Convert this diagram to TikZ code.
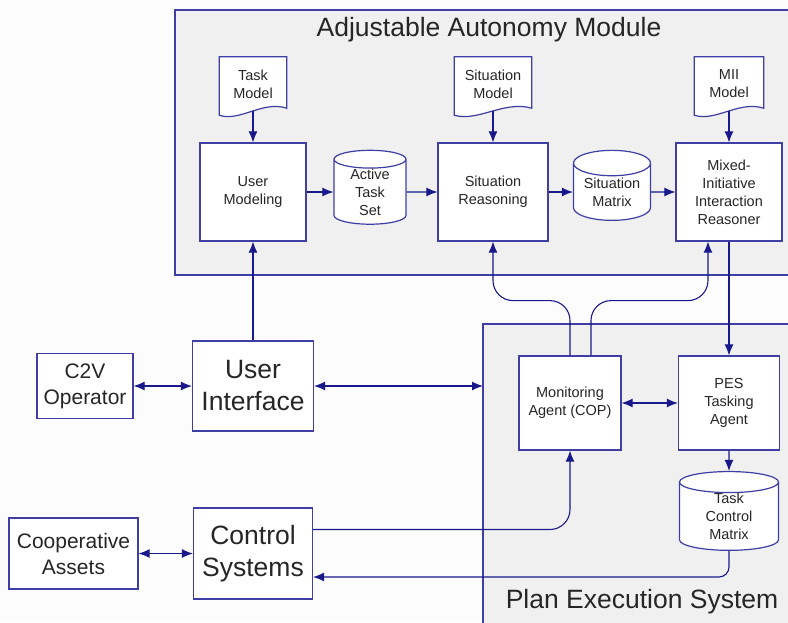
\documentclass[tikz,border=0pt]{standalone}
\usepackage{fontspec}
\setmainfont{Liberation Sans}
\usepackage{tikz}
\usetikzlibrary{calc,shapes.geometric,arrows.meta,backgrounds}

\definecolor{boxline}{RGB}{62,62,165}
\definecolor{linkblue}{RGB}{25,25,140}
\definecolor{panelgray}{RGB}{240,240,240}
\definecolor{pagebg}{RGB}{252,252,252}
\definecolor{txt}{RGB}{38,38,38}

\begin{document}
\begin{tikzpicture}[x=1pt,y=-1pt,
    >={Latex[length=11pt,width=9pt]},
    every node/.style={text=txt,align=center},
    small/.style={font=\fontsize{14.5}{18}\selectfont},
    box/.style={small,draw=boxline,line width=1.2pt,fill=white,inner sep=0pt},
    midbox/.style={box,font=\fontsize{21}{26}\selectfont},
    bigbox/.style={box,font=\fontsize{26.5}{32}\selectfont},
    db/.style={small,cylinder,shape border rotate=90,aspect=0.45,draw=boxline,line width=1.2pt,fill=white,inner sep=0pt},
    doc/.style={small,inner sep=0pt,minimum height=54pt},
    docline/.style={draw=boxline,line width=1.2pt,fill=white},
    link/.style={draw=linkblue,line width=1.1pt},
    panel/.style={draw=boxline,line width=1.1pt,fill=panelgray},
    paneltitle/.style={font=\fontsize{26.5}{32}\selectfont,anchor=base}]
  \useasboundingbox (0,0) rectangle (788,622);

  % 模块框
  \begin{scope}[on background layer]
    \fill[pagebg] (0,0) rectangle (788,622);
    \draw[panel] (175,10) rectangle (800,275);
    \draw[panel] (483,324) rectangle (800,640);
  \end{scope}
  \node[paneltitle] (aamtitle) at (489,36) {Adjustable Autonomy Module};
  \node[paneltitle] (pestitle) at (642,608) {Plan Execution System};

  % 模型文档
  \node[doc,minimum width=67pt] (tm) at (253,84) {Task\\Model};
  \node[doc,minimum width=77pt] (sm) at (493,84) {Situation\\Model};
  \node[doc,minimum width=69pt] (mm) at (729,84) {MII\\Model};

  % 推理
  \node[box,minimum width=106pt,minimum height=98pt] (um) at (253,192) {User\\Modeling};
  \node[db,minimum width=72pt,minimum height=70pt] (ats) at (370,192) {Active\\Task\\Set};
  \node[box,minimum width=110pt,minimum height=98pt] (sr) at (493,192) {Situation\\Reasoning};
  \node[db,minimum width=77pt,minimum height=70pt] (smx) at (612,192) {Situation\\Matrix};
  \node[box,minimum width=106pt,minimum height=98pt] (mir) at (729,192) {Mixed-\\Initiative\\Interaction\\Reasoner};

  % 外部
  \node[midbox,minimum width=96pt,minimum height=65pt] (c2v) at (85,386) {C2V\\Operator};
  \node[bigbox,minimum width=121pt,minimum height=90pt] (ui) at (253,386) {User\\Interface};
  \node[midbox,minimum width=129pt,minimum height=71pt] (coop) at (73.5,553.5) {Cooperative\\Assets};
  \node[bigbox,minimum width=119pt,minimum height=91pt] (cs) at (253,553.5) {Control\\Systems};

  % 执行
  \node[box,minimum width=102pt,minimum height=94pt] (ma) at (570,403) {Monitoring\\Agent (COP)};
  \node[box,minimum width=101pt,minimum height=94pt] (pta) at (729,403) {PES\\Tasking\\Agent};
  \node[db,minimum width=99pt,minimum height=77pt] (tcm) at (729,516.5) {Task\\Control\\Matrix};
  \coordinate (pesw) at (483,386);

  \begin{scope}[on background layer]
    \foreach \d in {tm,sm,mm}
      \draw[docline] (\d.north west) -- (\d.north east) -- ($(\d.south east)+(0,-3)$)
        .. controls ($(\d.south west)!0.65!(\d.south east)+(0,-11)$) and ($(\d.south west)!0.3!(\d.south east)+(0,11)$) .. ($(\d.south west)+(0,4)$) -- cycle;
  \end{scope}

  % 连线
  \draw[link,->] (tm.south) -- (um.north);
  \draw[link,->] (sm.south) -- (sr.north);
  \draw[link,->] (mm.south) -- (mir.north);
  \draw[link,->] (um) -- (ats);
  \draw[link,->] (ats) -- (sr);
  \draw[link,->] (sr) -- (smx);
  \draw[link,->] (smx) -- (mir);
  \draw[link,->] (ui) -- (um);
  \draw[link,<->] (c2v) -- (ui);
  \draw[link,<->] (ui) -- (pesw);
  \draw[link,<->] (coop) -- (cs);
  \draw[link,->,rounded corners=20pt] (ma.north) |- ($(sr.south)+(0,59)$) -- (sr.south);
  \draw[link,->,rounded corners=20pt] ($(ma.north)+(21,0)$) |- ($(mir.south)+(-21,59)$) -- ($(mir.south)+(-21,0)$);
  \draw[link,->] (mir) -- (pta);
  \draw[link,<->] (ma) -- (pta);
  \draw[link,->] (pta) -- (tcm);
  \draw[link,->,rounded corners=20pt] ($(cs.east)+(0,-24)$) -| (ma.south);
  \draw[link,->,rounded corners=10pt] (tcm.south) |- ($(cs.east)+(0,23.5)$);
\end{tikzpicture}
\end{document}
